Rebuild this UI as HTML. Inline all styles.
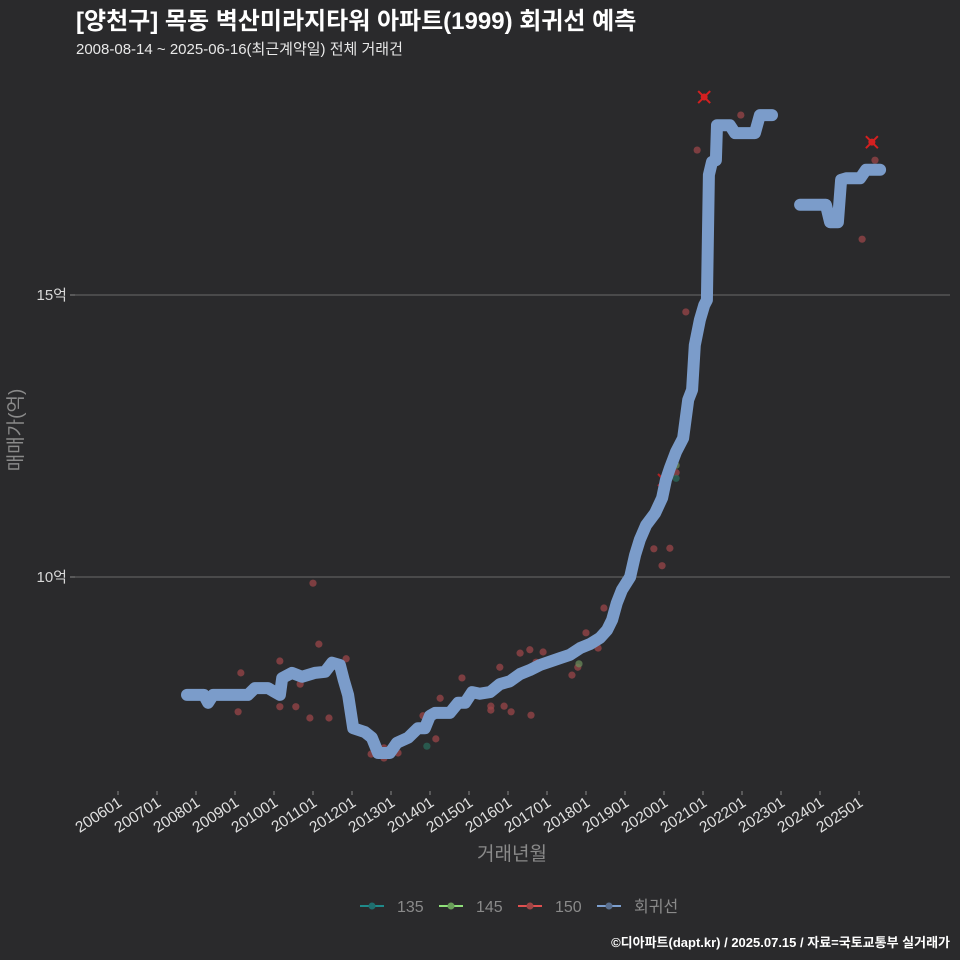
<!DOCTYPE html>
<html><head><meta charset="utf-8"><style>
html,body{margin:0;padding:0;background:#2a2a2c;}
svg{display:block;font-family:"Liberation Sans","Noto Sans CJK KR",sans-serif;}
</style></head><body>
<svg id="chart" width="960" height="960" viewBox="0 0 960 960">
<rect x="0" y="0" width="960" height="960" fill="#2a2a2c"/>
<text x="76" y="29" fill="#ffffff" font-size="24" font-weight="bold">[양천구] 목동 벽산미라지타워 아파트(1999) 회귀선 예측</text>
<text x="76" y="54" fill="#e8e8e8" font-size="15">2008-08-14 ~ 2025-06-16(최근계약일) 전체 거래건</text>
<g id="grid"></g>
<g id="yticks"></g>
<g id="xticks"></g>
<g id="points"></g>
<g id="marksBack"></g>
<g id="lines"></g>
<g id="marks"></g>
<text x="0" y="0" transform="translate(22,430) rotate(-90)" text-anchor="middle" fill="#8a8a8a" font-size="19">매매가(억)</text>
<text x="512" y="860" text-anchor="middle" fill="#8a8a8a" font-size="19">거래년월</text>
<g>
<g><line x1="360" y1="906" x2="384" y2="906" stroke="#1f8a8a" stroke-width="2"/><circle cx="372" cy="906" r="3.5" fill="#1f6f6f"/><text x="397" y="912" fill="#8a8a8a" font-size="16">135</text></g>
<g><line x1="439" y1="906" x2="463" y2="906" stroke="#8fe07a" stroke-width="2"/><circle cx="451" cy="906" r="3.5" fill="#6aa05a"/><text x="476" y="912" fill="#8a8a8a" font-size="16">145</text></g>
<g><line x1="518" y1="906" x2="542" y2="906" stroke="#e05050" stroke-width="2"/><circle cx="530" cy="906" r="3.5" fill="#a04545"/><text x="555" y="912" fill="#8a8a8a" font-size="16">150</text></g>
<g><line x1="597" y1="906" x2="621" y2="906" stroke="#7c9fcf" stroke-width="2"/><circle cx="609" cy="906" r="3.5" fill="#5a6f8f"/><text x="634" y="912" fill="#8a8a8a" font-size="16">회귀선</text></g>
</g>
<text x="950" y="947" text-anchor="end" fill="#ffffff" font-size="13" font-weight="bold">©디아파트(dapt.kr) / 2025.07.15 / 자료=국토교통부 실거래가</text>
</svg>
<script>
const yTickValues = [10, 15];
const yTickLabels = ["10억", "15억"];
const xTickYears = [2006,2007,2008,2009,2010,2011,2012,2013,2014,2015,2016,2017,2018,2019,2020,2021,2022,2023,2024,2025];
const xTickLabels = ["200601","200701","200801","200901","201001","201101","201201","201301","201401","201501","201601","201701","201801","201901","202001","202101","202201","202301","202401","202501"];
const lineSeg1T = [2007.77,2008.2,2008.31,2008.44,2009.33,2009.51,2009.85,2009.97,2010.15,2010.21,2010.46,2010.72,2011.05,2011.31,2011.49,2011.69,2011.79,2011.9,2012.03,2012.33,2012.51,2012.67,2012.97,2013.15,2013.44,2013.69,2013.87,2014.0,2014.13,2014.51,2014.72,2014.9,2015.08,2015.28,2015.54,2015.79,2016.05,2016.31,2016.56,2016.82,2017.08,2017.33,2017.59,2017.85,2018.1,2018.36,2018.54,2018.67,2018.79,2018.92,2019.13,2019.26,2019.38,2019.54,2019.77,2019.95,2020.05,2020.15,2020.31,2020.49,2020.62,2020.72,2020.79,2020.92,2021.03,2021.1,2021.15,2021.23,2021.33,2021.36,2021.69,2021.82,2022.33,2022.46,2022.77];
const lineSeg1V = [7.91,7.91,7.77,7.91,7.91,8.03,8.03,7.98,7.91,8.21,8.3,8.23,8.3,8.32,8.48,8.44,8.17,7.91,7.32,7.25,7.15,6.88,6.88,7.06,7.15,7.32,7.32,7.54,7.59,7.59,7.77,7.77,7.96,7.93,7.96,8.1,8.15,8.28,8.35,8.44,8.5,8.56,8.62,8.74,8.81,8.92,9.06,9.24,9.54,9.77,10.0,10.39,10.66,10.92,11.13,11.4,11.72,11.93,12.22,12.46,13.14,13.32,14.11,14.56,14.82,14.91,17.13,17.36,17.39,18.01,18.01,17.87,17.87,18.19,18.19];
const lineSeg2T = [2023.49,2024.15,2024.26,2024.46,2024.54,2024.67,2025.03,2025.18,2025.54];
const lineSeg2V = [16.6,16.6,16.29,16.29,17.04,17.07,17.07,17.22,17.22];
const pts150T = [2009.08,2009.15,2010.15,2010.15,2010.56,2010.67,2010.92,2011.0,2011.15,2011.41,2011.85,2012.49,2012.82,2012.82,2013.18,2013.82,2014.15,2014.26,2014.82,2015.56,2015.56,2015.79,2015.9,2016.08,2016.31,2016.56,2016.59,2016.72,2016.9,2016.9,2017.64,2017.79,2018.0,2018.31,2018.46,2019.74,2019.95,2020.15,2020.31,2020.56,2020.85,2021.97,2025.08,2025.41];
const pts150V = [7.61,8.3,8.51,7.7,7.7,8.1,7.5,9.89,8.81,7.5,8.55,6.86,6.97,6.79,6.88,7.54,7.13,7.85,8.21,7.64,7.71,8.4,7.71,7.61,8.65,8.71,7.55,8.49,8.67,8.49,8.26,8.4,9.01,8.74,9.45,10.5,10.2,10.51,11.85,14.7,17.57,18.19,15.99,17.39];
const pts135T = [2013.92,2020.31];
const pts135V = [7.0,11.75];
const pts145T = [2017.82,2020.31];
const pts145V = [8.46,11.98];
const markBackT = [2020.0];
const markBackV = [11.72];
const markT = [2021.03,2025.33];
const markV = [18.51,17.71];

const NS = "http://www.w3.org/2000/svg";
function xs(t){ return 118 + (t - 2006) * 39; }
function ys(v){ return 577 - (v - 10) * 56.4; }
function mk(tag, attrs, parent){ const e=document.createElementNS(NS,tag); for(const k in attrs) e.setAttribute(k,attrs[k]); parent.appendChild(e); return e; }

const grid=document.getElementById('grid'), yt=document.getElementById('yticks'), xt=document.getElementById('xticks');
yTickValues.forEach((v,i)=>{
  const l=mk('line',{x1:75,x2:950,y1:ys(v),y2:ys(v),stroke:'#6a6a6a','stroke-width':1},grid);
  
  
  const tk=mk('line',{x1:70,x2:75,y1:ys(v),y2:ys(v),stroke:'#888','stroke-width':1},yt);
  
  
  const tx=mk('text',{x:67,y:ys(v)+5,'text-anchor':'end',fill:'#d8d8d8','font-size':15},yt);
  tx.textContent=yTickLabels[i];
  
  
});
xTickYears.forEach((yr,i)=>{
  const x=xs(yr);
  const tk=mk('line',{x1:x,x2:x,y1:791,y2:795,stroke:'#888','stroke-width':1},xt);
  
  
  const tx=mk('text',{x:0,y:0,'text-anchor':'end',fill:'#e0e0e0','font-size':15.5,transform:`translate(${x+5},${805}) rotate(-33)`},xt);
  tx.textContent=xTickLabels[i];
  
  
});
const pg=document.getElementById('points');
function drawPts(T,V,col,name){
  T.forEach((t,i)=>{
    const c=mk('circle',{cx:xs(t),cy:ys(V[i]),r:3.6,fill:col,'fill-opacity':0.75},pg);
    
    
  });
}
drawPts(pts150T,pts150V,'#9a4548','point-150');
drawPts(pts135T,pts135V,'#2a6a5a','point-135');
drawPts(pts145T,pts145V,'#6a8a5a','point-145');
function drawMarks(T,V,parent,op){
  T.forEach((t,i)=>{
    const x=xs(t), y=ys(V[i]);
    const g=mk('g',{opacity:op},parent);
    
    
    mk('line',{x1:x-6,y1:y-6,x2:x+6,y2:y+6,stroke:'#d42020','stroke-width':2},g);
    mk('line',{x1:x-6,y1:y+6,x2:x+6,y2:y-6,stroke:'#d42020','stroke-width':2},g);
    mk('circle',{cx:x,cy:y,r:3.5,fill:'#d42020'},g);
  });
}
drawMarks(markBackT,markBackV,document.getElementById('marksBack'),0.8);
const lg=document.getElementById('lines');
function drawLine(T,V){
  const d=T.map((t,i)=>(i?'L':'M')+xs(t).toFixed(1)+','+ys(V[i]).toFixed(1)).join(' ');
  const p=mk('path',{d:d,fill:'none',stroke:'#7b9cca','stroke-width':12,'stroke-linecap':'round','stroke-linejoin':'round'},lg);
  
  
}
drawLine(lineSeg1T,lineSeg1V);
drawLine(lineSeg2T,lineSeg2V);
drawMarks(markT,markV,document.getElementById('marks'),1);
</script>
</body></html>
